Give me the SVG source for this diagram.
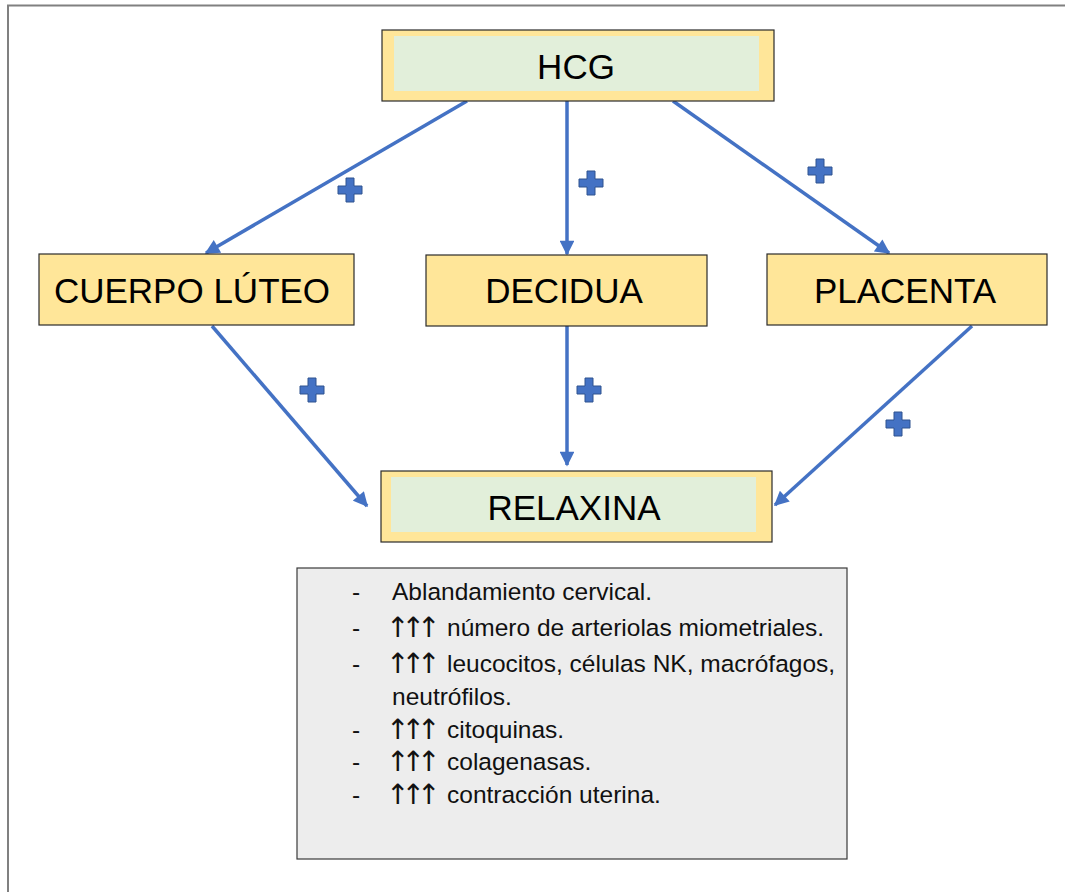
<svg xmlns="http://www.w3.org/2000/svg" width="1065" height="892" viewBox="0 0 1065 892">
<style>
.box{fill:#FFE699;stroke:#2b2b2b;stroke-width:1.2}
.inner{fill:#E2EFDA}
.big{font-family:"Liberation Sans",Arial,sans-serif;font-size:35px;fill:#000;text-anchor:middle}
.li{font-family:"Liberation Sans",Arial,sans-serif;font-size:24.5px;fill:#111}
.arr{font-family:"DejaVu Sans",sans-serif;font-size:28px;fill:#111;letter-spacing:-8px}
.edge{stroke:#4472C4;stroke-width:3.5;fill:none;marker-end:url(#ah)}
.plus{fill:#4472C4;stroke:#2F528F;stroke-width:1}
</style>
<defs>
<marker id="ah" viewBox="0 0 10 10" refX="9" refY="5" markerWidth="4.6" markerHeight="4.2" orient="auto" markerUnits="strokeWidth">
<path d="M0,0 L10,5 L0,10 z" fill="#4472C4"/>
</marker>
<path id="cross" d="M-4,-12 H4 V-4 H12 V4 H4 V12 H-4 V4 H-12 V-4 H-4 Z"/>
</defs>
<rect width="1065" height="892" fill="#fff"/>
<path d="M8,892 V5.5 H1065" fill="none" stroke="#808080" stroke-width="2"/>

<g id="connectors">
<line class="edge" x1="467" y1="101" x2="206" y2="253"/>
<line class="edge" x1="567" y1="101" x2="567" y2="254"/>
<line class="edge" x1="673" y1="101" x2="889" y2="253"/>
<line class="edge" x1="212" y1="326" x2="367" y2="506"/>
<line class="edge" x1="567" y1="326" x2="567" y2="465"/>
<line class="edge" x1="972" y1="326" x2="775" y2="505"/>
</g>
<g id="plus-signs">
<use href="#cross" class="plus" x="350" y="190"/>
<use href="#cross" class="plus" x="591" y="183"/>
<use href="#cross" class="plus" x="820" y="171"/>
<use href="#cross" class="plus" x="312" y="390"/>
<use href="#cross" class="plus" x="589" y="390"/>
<use href="#cross" class="plus" x="898" y="424"/>
</g>

<g id="hcg">
<rect class="box" x="382" y="30" width="392" height="71"/>
<rect class="inner" x="394" y="36" width="365" height="55"/>
<text class="big" x="576" y="79">HCG</text>
</g>
<g id="cuerpo-luteo">
<rect class="box" x="39" y="254" width="315" height="71"/>
<text class="big" x="192" y="303">CUERPO LÚTEO</text>
</g>
<g id="decidua">
<rect class="box" x="426" y="255" width="281" height="71"/>
<text class="big" x="564" y="303">DECIDUA</text>
</g>
<g id="placenta">
<rect class="box" x="767" y="254" width="280" height="71"/>
<text class="big" x="905" y="303">PLACENTA</text>
</g>
<g id="relaxina">
<rect class="box" x="381" y="471" width="391" height="71"/>
<rect class="inner" x="391" y="477" width="365" height="55"/>
<text class="big" x="574" y="520">RELAXINA</text>
</g>
<g id="efectos">
<rect x="297" y="568" width="550" height="291" fill="#EDEDED" stroke="#3a3a3a" stroke-width="1.2"/>
<text class="li">
<tspan x="352" y="600">-</tspan><tspan x="392" y="600">Ablandamiento cervical.</tspan>
<tspan x="352" y="636">-</tspan><tspan x="447" y="636">número de arteriolas miometriales.</tspan>
<tspan x="352" y="672">-</tspan><tspan x="447" y="672">leucocitos, células NK, macrófagos,</tspan>
<tspan x="392" y="705">neutrófilos.</tspan>
<tspan x="352" y="738">-</tspan><tspan x="447" y="738">citoquinas.</tspan>
<tspan x="352" y="770">-</tspan><tspan x="447" y="770">colagenasas.</tspan>
<tspan x="352" y="803">-</tspan><tspan x="447" y="803">contracción uterina.</tspan>
</text>
<text class="arr">
<tspan x="386" y="637">↑↑↑</tspan>
<tspan x="386" y="673">↑↑↑</tspan>
<tspan x="386" y="739">↑↑↑</tspan>
<tspan x="386" y="771">↑↑↑</tspan>
<tspan x="386" y="804">↑↑↑</tspan>
</text>
</g>
</svg>
